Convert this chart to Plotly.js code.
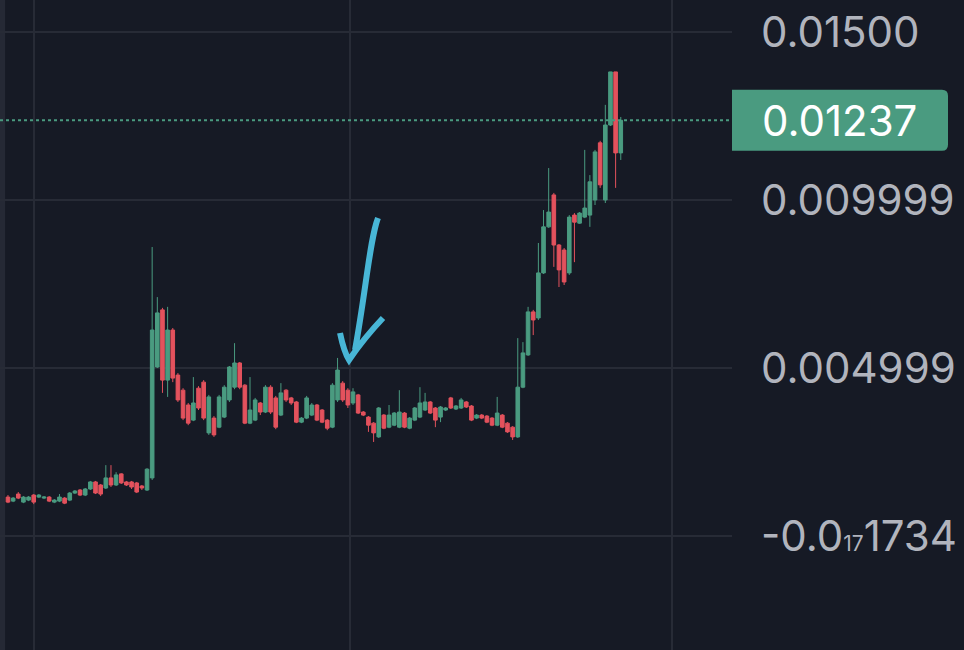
<!DOCTYPE html>
<html>
<head>
<meta charset="utf-8">
<script src="https://cdn.plot.ly/plotly-3.0.1.min.js"></script>
<style>
html,body{margin:0;padding:0;background:#161a25;}
#chart{width:964px;height:650px;}
</style>
</head>
<body>
<div id="chart"></div>
<script>
const opens = [
0.00116,0.00104,0.00125,0.00101,0.00107,0.00122,0.00116,0.00113,0.00116,0.00101,
0.00104,0.00113,0.00107,0.00128,0.00137,0.00122,0.00140,0.00161,0.00152,0.00143,
0.00173,0.00152,0.00185,0.00161,0.00161,0.00158,0.00149,0.00137,0.00173,0.00503,
0.00673,0.00464,0.00613,0.00479,0.00434,0.00390,0.00345,0.00440,0.00458,0.00307,
0.00351,0.00324,0.00354,0.00405,0.00443,0.00515,0.00449,0.00336,0.00345,0.00396,
0.00369,0.00443,0.00411,0.00360,0.00434,0.00411,0.00399,0.00339,0.00351,0.00360,
0.00390,0.00375,0.00345,0.00324,0.00405,0.00455,0.00434,0.00396,0.00420,0.00369,
0.00354,0.00336,0.00295,0.00360,0.00324,0.00330,0.00324,0.00366,0.00321,0.00345,
0.00354,0.00375,0.00399,0.00381,0.00354,0.00375,0.00411,0.00378,0.00381,0.00399,
0.00387,0.00351,0.00360,0.00357,0.00351,0.00330,0.00360,0.00336,0.00324,0.00295,
0.00443,0.00539,0.00667,0.00649,0.00783,0.00920,0.01015,0.00866,0.00851,0.00783,
0.00955,0.00931,0.00949,0.00955,0.01000,0.01170,0.01000,0.01223,0.01381,0.01140];
const highs = [
0.00122,0.00116,0.00131,0.00119,0.00119,0.00125,0.00125,0.00119,0.00119,0.00110,
0.00125,0.00116,0.00131,0.00137,0.00140,0.00143,0.00164,0.00164,0.00155,0.00211,
0.00211,0.00190,0.00187,0.00164,0.00164,0.00161,0.00152,0.00202,0.00860,0.00711,
0.00679,0.00682,0.00619,0.00485,0.00440,0.00396,0.00473,0.00446,0.00464,0.00420,
0.00357,0.00420,0.00449,0.00506,0.00574,0.00518,0.00452,0.00473,0.00411,0.00399,
0.00449,0.00449,0.00417,0.00455,0.00437,0.00414,0.00402,0.00354,0.00417,0.00396,
0.00393,0.00378,0.00348,0.00455,0.00530,0.00461,0.00440,0.00440,0.00423,0.00372,
0.00357,0.00339,0.00384,0.00363,0.00390,0.00369,0.00434,0.00369,0.00354,0.00384,
0.00443,0.00426,0.00402,0.00384,0.00387,0.00384,0.00414,0.00390,0.00411,0.00402,
0.00390,0.00363,0.00363,0.00360,0.00354,0.00414,0.00363,0.00339,0.00327,0.00589,
0.00577,0.00682,0.00673,0.00872,0.00970,0.01095,0.01021,0.00869,0.00857,0.00955,
0.00961,0.00964,0.01149,0.01074,0.01149,0.01176,0.01283,0.01381,0.01381,0.01247];
const lows = [
0.00098,0.00101,0.00110,0.00098,0.00104,0.00095,0.00113,0.00110,0.00101,0.00098,
0.00101,0.00095,0.00104,0.00125,0.00119,0.00119,0.00137,0.00125,0.00119,0.00140,
0.00146,0.00149,0.00155,0.00149,0.00140,0.00128,0.00137,0.00134,0.00167,0.00500,
0.00426,0.00414,0.00458,0.00399,0.00345,0.00330,0.00342,0.00375,0.00345,0.00301,
0.00295,0.00321,0.00351,0.00399,0.00437,0.00437,0.00333,0.00333,0.00342,0.00360,
0.00366,0.00363,0.00318,0.00357,0.00399,0.00390,0.00336,0.00336,0.00348,0.00357,
0.00342,0.00336,0.00315,0.00321,0.00399,0.00399,0.00381,0.00390,0.00363,0.00357,
0.00310,0.00280,0.00292,0.00318,0.00321,0.00327,0.00321,0.00321,0.00318,0.00342,
0.00351,0.00372,0.00363,0.00324,0.00339,0.00372,0.00378,0.00375,0.00378,0.00381,
0.00342,0.00348,0.00348,0.00336,0.00327,0.00327,0.00321,0.00307,0.00286,0.00292,
0.00440,0.00536,0.00598,0.00643,0.00780,0.00917,0.00801,0.00741,0.00747,0.00777,
0.00815,0.00929,0.00946,0.00920,0.00985,0.01036,0.00991,0.01220,0.01036,0.01119];
const closes = [
0.00101,0.00113,0.00113,0.00116,0.00116,0.00101,0.00122,0.00116,0.00104,0.00107,
0.00116,0.00098,0.00128,0.00134,0.00122,0.00140,0.00161,0.00128,0.00125,0.00173,
0.00152,0.00182,0.00158,0.00152,0.00146,0.00131,0.00143,0.00199,0.00613,0.00664,
0.00464,0.00613,0.00470,0.00405,0.00351,0.00336,0.00396,0.00381,0.00351,0.00414,
0.00301,0.00414,0.00443,0.00503,0.00515,0.00443,0.00336,0.00375,0.00405,0.00369,
0.00443,0.00369,0.00324,0.00426,0.00405,0.00396,0.00339,0.00351,0.00411,0.00390,
0.00345,0.00339,0.00321,0.00449,0.00494,0.00405,0.00390,0.00429,0.00366,0.00360,
0.00330,0.00307,0.00381,0.00321,0.00360,0.00366,0.00369,0.00324,0.00351,0.00381,
0.00396,0.00399,0.00366,0.00345,0.00384,0.00381,0.00381,0.00387,0.00405,0.00384,
0.00345,0.00360,0.00351,0.00339,0.00330,0.00366,0.00324,0.00310,0.00295,0.00443,
0.00545,0.00667,0.00643,0.00783,0.00920,0.00964,0.00866,0.00792,0.00756,0.00949,
0.00934,0.00961,0.00976,0.01054,0.01143,0.01045,0.01223,0.01381,0.01140,0.01237];

const priceTickVals = [0.015, 0.009999, 0.004999, -1.734e-18];
const priceTickText = ['0.01500', '0.009999', '0.004999',
  '-0.0<span style="font-size:21px">17</span>1734'];
const lastPrice = 0.01237;
const lastPriceText = '0.01237';

const idx = opens.map((_, i) => i);

const UP = '#4a9b80', DOWN = '#e3525d';
const BG = '#161a25', GRID = '#272b36';
const Y_RANGE = [-0.00339, 0.01595];
const X_RANGE = [-1.55, 140.6];
const PLOT_W = 732, PLOT_H = 650;
const FONT = 'Inter, Roboto, sans-serif';

const trace = {
  type: 'candlestick', x: idx, open: opens, high: highs, low: lows, close: closes,
  increasing: {line: {color: UP, width: 1}, fillcolor: UP},
  decreasing: {line: {color: DOWN, width: 1}, fillcolor: DOWN},
  whiskerwidth: 0, hoverinfo: 'skip', showlegend: false
};

// helpers for decorative (non-data) drawing in paper space
const px = x => x / PLOT_W;
const py = y => 1 - y / PLOT_H;
const pt = (x, y) => px(x).toFixed(4) + ',' + py(y).toFixed(4);
const arrowPath =
  'M' + pt(378, 218) + ' C' + pt(370, 238) + ' ' + pt(366, 290) + ' ' + pt(355, 350) +
  ' M' + pt(340, 333) + ' Q' + pt(344, 352) + ' ' + pt(349, 360) +
  ' Q' + pt(364, 338) + ' ' + pt(383, 318);

const lastPaperY = (lastPrice - Y_RANGE[0]) / (Y_RANGE[1] - Y_RANGE[0]);

const layout = {
  width: 964, height: 650,
  margin: {l: 0, r: 232, t: 0, b: 0, pad: 0},
  paper_bgcolor: BG, plot_bgcolor: BG,
  boxgap: 0.3, boxgroupgap: 0,
  showlegend: false,
  xaxis: {
    range: X_RANGE, rangeslider: {visible: false}, showgrid: true, gridcolor: GRID, gridwidth: 2,
    tickvals: [5.05, 66.4, 128.9], showticklabels: false, ticks: '', zeroline: false,
    showline: false, fixedrange: true
  },
  yaxis: {
    range: Y_RANGE, side: 'right', showgrid: true, gridcolor: GRID, gridwidth: 2,
    tickvals: priceTickVals, ticktext: priceTickText, ticks: '', ticklabelstandoff: 28,
    tickfont: {family: FONT, size: 42, color: '#b1b4bd'},
    zeroline: false, showline: false, fixedrange: true
  },
  shapes: [
    {type: 'rect', xref: 'paper', yref: 'paper', x0: 0, x1: 0.007, y0: 0, y1: 1,
     fillcolor: '#252935', line: {width: 0}, layer: 'below'},
    {type: 'line', xref: 'paper', yref: 'y', x0: 0, x1: 1, y0: lastPrice, y1: lastPrice,
     line: {color: UP, width: 2, dash: 'dot'}},
    {type: 'path', xref: 'paper', yref: 'paper', xsizemode: 'pixel', ysizemode: 'pixel',
     xanchor: 1, yanchor: lastPaperY,
     path: 'M0,-30.5 L210,-30.5 Q216,-30.5 216,-24.5 L216,24.5 Q216,30.5 210,30.5 L0,30.5 Z',
     fillcolor: UP, line: {width: 0}},
    {type: 'path', xref: 'paper', yref: 'paper', path: arrowPath,
     line: {color: '#48b6d6', width: 6}}
  ],
  annotations: [
    {xref: 'paper', yref: 'paper', x: 1 + 28 / PLOT_W, y: lastPaperY, xanchor: 'left', yanchor: 'middle',
     text: lastPriceText, showarrow: false,
     font: {family: FONT, size: 42, color: '#ffffff'}}
  ]
};

Plotly.newPlot('chart', [trace], layout, {displayModeBar: false, staticPlot: true});
</script>
</body>
</html>
